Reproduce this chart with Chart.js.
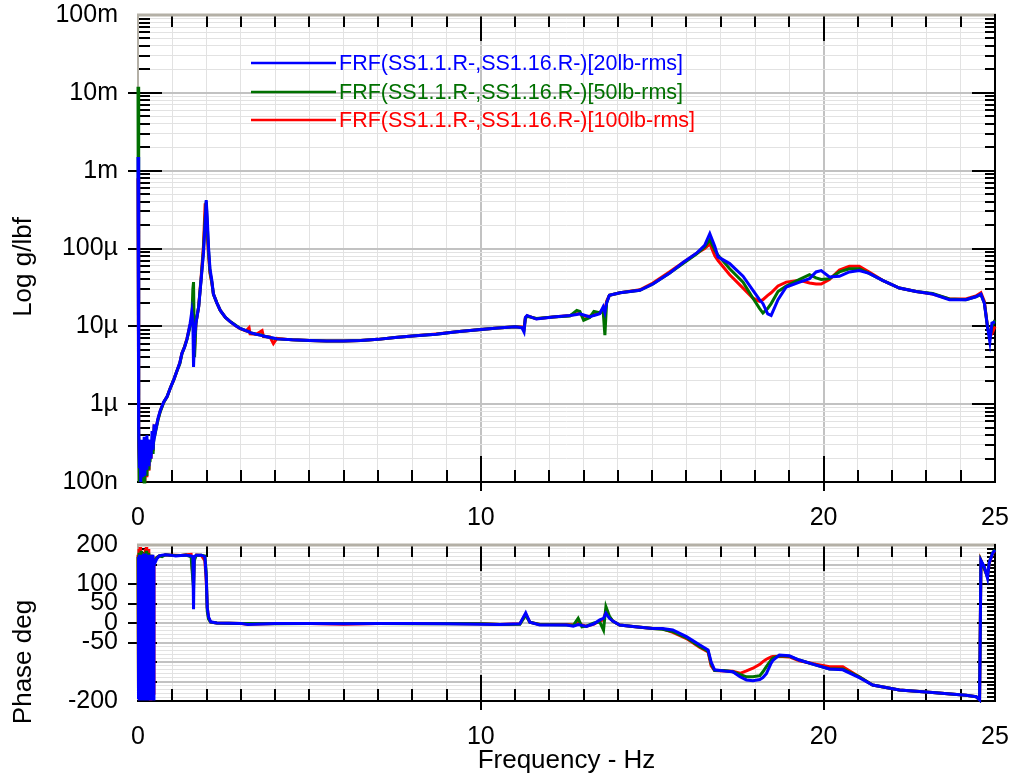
<!DOCTYPE html>
<html>
<head>
<meta charset="utf-8">
<title>FRF SS1.1.R- / SS1.16.R-</title>
<script src="https://cdn.jsdelivr.net/npm/chart.js@4.4.1/dist/chart.umd.min.js"></script>
<style>
  html, body { margin: 0; padding: 0; background: #ffffff; }
  #wrap { position: relative; width: 1011px; height: 780px; }
  #wrap canvas { position: absolute; left: 0; }
  #magChart { top: 0; }
  #phaseChart { top: 530px; }
</style>
</head>
<body>
<div id="wrap">
  <canvas id="magChart" width="1011" height="530"></canvas>
  <canvas id="phaseChart" width="1011" height="250"></canvas>
</div>
<script>
// ---- series ----
const seriesNames = [
  'FRF(SS1.1.R-,SS1.16.R-)[20lb-rms]',
  'FRF(SS1.1.R-,SS1.16.R-)[50lb-rms]',
  'FRF(SS1.1.R-,SS1.16.R-)[100lb-rms]'
];
const seriesColors = ['#0000ff', '#007000', '#ff0000'];

// ---- magnitude (micro g/lbf) ----
const magFreq = [
  0, 0.02, 0.04, 0.06, 0.08, 0.10, 0.12, 0.14, 0.16, 0.18,
  0.20, 0.22, 0.24, 0.26, 0.28, 0.30, 0.32, 0.35, 0.38, 0.41,
  0.44, 0.47, 0.50, 0.58, 0.65, 0.75, 0.85, 0.94, 1.05, 1.14,
  1.22, 1.28, 1.36, 1.43, 1.52, 1.57, 1.60, 1.62, 1.65, 1.69,
  1.77, 1.84, 1.91, 1.96, 1.99, 2.02, 2.06, 2.10, 2.15, 2.20,
  2.30, 2.40, 2.55, 2.69, 2.85, 2.98, 3.15, 3.24, 3.27, 3.45,
  3.62, 3.66, 3.85, 3.95, 4.05, 4.5, 5.0, 5.5, 6.0, 6.5,
  7.0, 7.5, 8.0, 8.7, 9.3, 10.0, 10.5, 11.0, 11.2, 11.26,
  11.3, 11.35, 11.62, 12.11, 12.6, 12.8, 12.89, 13.0, 13.18, 13.3,
  13.47, 13.57, 13.62, 13.67, 13.75, 14.06, 14.64, 15.02, 15.5, 15.9,
  16.29, 16.53, 16.68, 16.83, 16.92, 17.26, 17.65, 17.94, 18.13, 18.23,
  18.37, 18.47, 18.67, 18.91, 19.3, 19.59, 19.78, 19.93, 20.17, 20.46,
  20.75, 21.04, 21.33, 21.72, 22.21, 22.7, 23.18, 23.67, 24.15, 24.44,
  24.59, 24.69, 24.78, 24.85, 24.91, 25.0
];
const mag20 = [
  1500, 0.50, 0.15, 0.35, 0.10, 0.30, 0.12, 0.35, 0.15, 0.38,
  0.12, 0.32, 0.15, 0.40, 0.18, 0.35, 0.16, 0.33, 0.20, 0.45,
  0.26, 0.55, 0.42, 0.65, 0.83, 1.07, 1.25, 1.6, 2.1, 2.7,
  3.4, 4.5, 5.4, 6.9, 10.9, 15.5, 12, 3.0, 7, 10.9,
  17.8, 39, 87, 210, 420, 250, 100, 55, 40, 26,
  20, 16, 13, 11.5, 10.2, 9.4, 8.8, 8.5, 8.3, 7.9,
  7.6, 7.5, 7.2, 7.1, 6.9, 6.7, 6.6, 6.5, 6.5, 6.6,
  6.8, 7.2, 7.5, 7.9, 8.5, 9.1, 9.5, 9.9, 9.6, 8.5,
  13.0, 13.8, 12.4, 13.2, 13.8, 14.2, 14.5, 14.0, 13.2, 13.8,
  14.5, 17.8, 15.0, 20, 25, 27, 29, 35, 48, 66,
  87, 110, 155, 105, 78, 64, 44, 29, 22, 19.6,
  14.5, 13.8, 22, 32, 37, 41, 50, 52, 43, 44,
  50, 52, 48, 39, 31, 28, 26, 22, 22, 24,
  26, 19.6, 9.9, 6.3, 11, 11.4
];
const mag50 = [
  12000, 0.40, 0.10, 0.30, 0.15, 0.10, 0.25, 0.12, 0.30, 0.10,
  0.22, 0.15, 0.35, 0.12, 0.25, 0.15, 0.30, 0.18, 0.26, 0.30,
  0.23, 0.45, 0.42, 0.62, 0.80, 1.05, 1.25, 1.6, 2.1, 2.7,
  3.3, 4.4, 5.5, 6.8, 10, 12, 30, 37, 4.0, 11,
  18, 40, 95, 260, 400, 200, 90, 50, 38, 26,
  20, 16, 13, 11.5, 10.3, 9.4, 8.8, 8.5, 8.3, 7.9,
  7.7, 7.5, 7.2, 7.0, 6.9, 6.7, 6.6, 6.5, 6.5, 6.6,
  6.8, 7.2, 7.5, 7.9, 8.5, 9.1, 9.5, 9.9, 9.7, 9.0,
  12.5, 13.5, 12.6, 13.2, 13.6, 16.0, 15.5, 12.0, 13.0, 15.5,
  15.0, 15.5, 7.7, 20, 25, 27, 29, 35, 48, 64,
  85, 105, 129, 95, 82, 55, 37, 23, 17, 14.8,
  17, 19.6, 28, 33, 40, 46, 42, 40, 41, 50,
  55, 55, 48, 39, 31, 28, 26.5, 22.5, 22, 24,
  25.5, 20, 10, 7, 10, 12
];
const mag100 = [
  800, 0.30, 0.20, 0.12, 0.25, 0.10, 0.30, 0.15, 0.12, 0.28,
  0.10, 0.20, 0.12, 0.35, 0.16, 0.26, 0.14, 0.32, 0.20, 0.35,
  0.25, 0.48, 0.45, 0.63, 0.82, 1.06, 1.25, 1.6, 2.1, 2.7,
  3.4, 4.5, 5.5, 7.0, 10.5, 11, 20, 9, 5, 11,
  18, 42, 110, 380, 300, 150, 80, 48, 37, 26,
  20, 16, 13, 11.5, 10.2, 9.3, 8.7, 9.6, 8.0, 7.9,
  8.8, 7.4, 7.3, 6.0, 7.0, 6.7, 6.6, 6.5, 6.5, 6.6,
  6.8, 7.2, 7.5, 8.0, 8.5, 9.1, 9.5, 9.9, 9.8, 9.3,
  12.8, 13.6, 12.5, 13.2, 13.8, 14.5, 14.5, 13.5, 13.5, 14.5,
  15.0, 17.0, 16, 21, 25, 27, 29.5, 36, 50, 66,
  86, 100, 115, 80, 70, 46, 31, 23, 21, 22,
  25, 27, 33, 37, 39, 36, 35, 35, 40, 53,
  59, 59, 50, 39, 31, 28, 26, 22.5, 22.5, 24.5,
  27, 21, 10, 7.5, 8, 10
];

// ---- phase (deg) ----
const phaseFreq = [
  0, 0.015, 0.03, 0.045, 0.06, 0.075, 0.09, 0.105, 0.12, 0.135,
  0.15, 0.165, 0.18, 0.195, 0.21, 0.225, 0.24, 0.255, 0.27, 0.285,
  0.30, 0.315, 0.33, 0.345, 0.36, 0.375, 0.39, 0.405, 0.42, 0.435,
  0.45, 0.465, 0.50, 0.55, 0.62, 0.70, 0.80, 0.95, 1.10, 1.25,
  1.40, 1.55, 1.60, 1.62, 1.64, 1.70, 1.85, 1.95, 1.99, 2.02,
  2.06, 2.12, 2.3, 3.0, 3.2, 4.0, 5.0, 6.0, 7.0, 8.0,
  9.0, 10.0, 10.56, 11.14, 11.31, 11.43, 11.72, 12.5, 12.7, 12.84,
  12.95, 13.08, 13.3, 13.47, 13.58, 13.65, 13.75, 13.85, 14.05, 14.44,
  15.02, 15.3, 15.6, 16.0, 16.38, 16.63, 16.72, 16.82, 17.1, 17.35,
  17.56, 17.75, 17.94, 18.14, 18.23, 18.33, 18.47, 18.52, 18.71, 19.0,
  19.29, 19.78, 20.17, 20.56, 21.04, 21.43, 22.21, 23.18, 24.15, 24.45,
  24.55, 24.59, 24.69, 24.78, 24.83, 24.93, 25.0
];
const phase20 = [
  -195, 170, -190, 175, -195, 160, -180, 175, -195, 170,
  -185, 178, -195, 165, -190, 178, -195, 170, -180, 175,
  -195, 170, -190, 175, -185, 172, -195, 168, -190, 175,
  -195, 160, 155, 165, 172, 174, 175, 174, 172, 173,
  174, 172, 170, 35, 170, 174, 174, 170, 120, 40,
  15, 3, 0, -1, -4, -1, -1, -2, -1, -1,
  -2, -3, -4, -2, 26, 2, -5, -5, -8, -4,
  -6, -9, -2, 8, 12, 25, 12, 5, -5, -9,
  -14, -14, -18, -35, -56, -69, -100, -120, -123, -125,
  -138, -146, -148, -145, -140, -130, -103, -96, -82, -84,
  -95, -108, -118, -120, -140, -159, -172, -178, -185, -189,
  -197, 160, 144, 115, 154, 179, 187
];
const phase50 = [
  170, -195, 180, -150, 175, -190, 185, -170, 175, -195,
  160, -180, 175, -190, 180, -160, 185, -195, 170, -185,
  180, -190, 175, -195, 165, -180, 175, -190, 170, -185,
  165, 150, 160, 168, 172, 170, 175, 174, 173, 173,
  174, 170, 110, 90, 160, 174, 174, 172, 130, 30,
  10, 2, 0, -1, -1, -2, -1, -1, -1, -2,
  -1, -2, -4, -3, 20, 2, -4, -5, -6, 12,
  -10, -8, 0, 3, -18, 42, 18, 5, -5, -9,
  -14, -16, -22, -38, -60, -72, -105, -122, -122, -125,
  -132, -138, -138, -135, -125, -112, -95, -90, -84, -85,
  -95, -108, -118, -118, -138, -159, -172, -178, -185, -189,
  -197, 160, 140, 118, 155, 180, 188
];
const phase100 = [
  175, -190, 190, -195, 195, -160, 180, -190, 170, -180,
  175, -195, 180, -170, 190, -185, 195, -180, 175, -190,
  -86, 190, -180, 170, -195, 175, -190, 170, -185, 172,
  -180, 160, 162, 168, 172, 172, 175, 174, 174, 173,
  175, 176, 120, 102, 165, 174, 173, 160, 110, 40,
  12, 2, 0, -1, -3, -1, -1, -3, -1, -1,
  -1, -2, -4, -2, 22, 2, -4, -4, -5, 2,
  -5, -8, -3, 5, 8, 30, 15, 5, -5, -9,
  -14, -15, -24, -40, -62, -74, -110, -122, -123, -124,
  -129, -123, -116, -106, -99, -93, -87, -86, -85, -87,
  -97, -106, -112, -112, -138, -159, -172, -178, -185, -189,
  -197, 160, 138, 120, 152, 178, 186
];

// ---- axis labels ----
const freqTickLabels = [0, 10, 20, 25];
const magTickLabels = ['100n', '1\u00b5', '10\u00b5', '100\u00b5', '1m', '10m', '100m'];
const phaseTickLabels = [200, 100, 50, 0, -50, -200];

// ---- shared look ----
const FONT = "'Liberation Sans', Arial, sans-serif";
Chart.defaults.font.family = FONT;
Chart.defaults.color = '#000000';
const GRID_MAJOR = '#c2c2c2';
const GRID_MINOR = '#e2e2e2';
const FRAME_GREY = '#b4b0a6';
const MICRO = 1e-6;

function strokeLine(ctx, x1, y1, x2, y2) {
  ctx.beginPath();
  ctx.moveTo(x1, y1);
  ctx.lineTo(x2, y2);
  ctx.stroke();
}

function isDecade(v) {
  const lg = Math.log10(v);
  return Math.abs(lg - Math.round(lg)) < 1e-6;
}

function toPoints(xs, ys, scale) {
  return xs.map((f, i) => ({ x: f, y: ys[i] * scale }));
}

function makeDatasets(xs, seriesList, scale) {
  return seriesList.map((ys, i) => ({
    label: seriesNames[i],
    data: toPoints(xs, ys, scale),
    borderColor: seriesColors[i],
    backgroundColor: seriesColors[i],
    borderWidth: 3,
    pointRadius: 0,
    tension: 0,
    fill: false,
    clip: 3
  }));
}

// frequency axis shared by both panels
function freqAxis(height, title) {
  return {
    type: 'linear',
    min: 0,
    max: 25,
    afterBuildTicks: s => {
      const t = [];
      for (let v = 0; v <= 25; v++) t.push({ value: v });
      s.ticks = t;
    },
    afterFit: s => {
      s.height = height;
      s.paddingLeft = 0;
      s.paddingRight = 0;
    },
    ticks: {
      autoSkip: false, maxRotation: 0, minRotation: 0,
      font: { size: 25 }, color: '#000', padding: 21,
      callback: v => freqTickLabels.includes(v) ? String(v) : ''
    },
    grid: {
      drawTicks: false,
      color: c => {
        const v = c.tick.value;
        if (v === 0 || v === 25) return 'rgba(0,0,0,0)';
        return v % 10 === 0 ? GRID_MAJOR : GRID_MINOR;
      },
      lineWidth: c => (c.tick.value % 10 === 0 ? 2 : 1)
    },
    border: { display: false },
    title: title ? {
      display: true, text: title, color: '#000',
      font: { size: 26 }, padding: { top: 0, bottom: 4 }
    } : { display: false }
  };
}

function fixYWidth(s) {
  s.width = 138;
  s.paddingTop = 0;
  s.paddingBottom = 0;
}

// inward tick marks and plot frame
function makeFrame(tickSpec) {
  return {
    id: 'axisFrame',
    beforeDatasetsDraw(chart) {
      const { ctx, chartArea: a, scales: { x, y } } = chart;
      const L = Math.round(a.left), R = Math.round(a.right);
      const T = Math.round(a.top), B = Math.round(a.bottom);
      ctx.save();
      ctx.lineCap = 'butt';
      ctx.strokeStyle = '#000';
      ctx.lineWidth = 2;
      x.ticks.forEach(t => {
        const v = t.value;
        if (v <= 0 || v >= 25) return;
        const px = Math.round(x.getPixelForValue(v));
        const major = v % 10 === 0;
        strokeLine(ctx, px, T, px, T + (major ? 26 : 12));
        strokeLine(ctx, px, B + (major ? 9 : 0), px, B - (major ? 26 : 12));
      });
      y.ticks.forEach(t => {
        const spec = tickSpec(t.value);
        if (!spec) return;
        const py = Math.round(y.getPixelForValue(t.value));
        strokeLine(ctx, L - spec[0], py, L + spec[1], py);
        strokeLine(ctx, R - spec[2], py, R, py);
      });
      ctx.strokeStyle = FRAME_GREY;
      ctx.lineWidth = 3;
      strokeLine(ctx, L - 1, T, R + 1, T);
      ctx.lineWidth = 2;
      strokeLine(ctx, L, T, L, B);
      ctx.strokeStyle = '#000';
      strokeLine(ctx, L - 1, B, R + 1, B);
      strokeLine(ctx, R, T - 1, R, B + 1);
      ctx.restore();
    }
  };
}

// rotated y-axis title
function makeYTitle(text, cy) {
  return {
    id: 'yTitle',
    afterDraw(chart) {
      const ctx = chart.ctx;
      ctx.save();
      ctx.translate(31, cy);
      ctx.rotate(-Math.PI / 2);
      ctx.font = '26px ' + FONT;
      ctx.fillStyle = '#000';
      ctx.textAlign = 'center';
      ctx.textBaseline = 'alphabetic';
      ctx.fillText(text, 0, 0);
      ctx.restore();
    }
  };
}

// legend drawn inside the magnitude plot
const inlineLegend = {
  id: 'inlineLegend',
  afterDatasetsDraw(chart) {
    const { ctx, chartArea: a } = chart;
    ctx.save();
    chart.data.datasets.forEach((ds, i) => {
      const y = Math.round(a.top + 48 + i * 28.5);
      ctx.strokeStyle = ds.borderColor;
      ctx.lineWidth = 2.5;
      strokeLine(ctx, a.left + 113, y, a.left + 198, y);
      ctx.fillStyle = ds.borderColor;
      ctx.font = '21.5px ' + FONT;
      ctx.textAlign = 'left';
      ctx.textBaseline = 'middle';
      ctx.fillText(ds.label, a.left + 201, y + 1);
    });
    ctx.restore();
  }
};

const baseOptions = {
  responsive: false,
  animation: false,
  devicePixelRatio: 1,
  events: [],
  plugins: { legend: { display: false }, tooltip: { enabled: false } }
};

// ---- magnitude panel ----
new Chart(document.getElementById('magChart'), {
  type: 'line',
  data: { datasets: makeDatasets(magFreq, [mag20, mag50, mag100], MICRO) },
  options: Object.assign({}, baseOptions, {
    layout: { padding: { top: 15, right: 16, left: 0, bottom: 0 } },
    scales: {
      x: freqAxis(48, null),
      y: {
        type: 'logarithmic',
        min: 1e-7,
        max: 1e-1,
        afterBuildTicks: s => {
          const t = [];
          for (let e = -7; e <= -1; e++) {
            for (let m = 1; m <= 9; m++) {
              const v = m * Math.pow(10, e);
              if (v <= 0.1000001) t.push({ value: v });
            }
          }
          s.ticks = t;
        },
        afterFit: fixYWidth,
        ticks: {
          autoSkip: false, font: { size: 25 }, color: '#000', padding: 20,
          callback: v => isDecade(v) ? magTickLabels[Math.round(Math.log10(v)) + 7] : ''
        },
        grid: {
          drawTicks: false,
          color: c => isDecade(c.tick.value) ? GRID_MAJOR : GRID_MINOR,
          lineWidth: c => isDecade(c.tick.value) ? 2 : 1
        },
        border: { display: false }
      }
    }
  }),
  plugins: [
    makeFrame(v => {
      if (!isDecade(v)) return [0, 12, 10];
      if (v < 1.5e-7 || v > 0.05) return null;
      return [10, 24, 23];
    }),
    inlineLegend,
    makeYTitle('Log g/lbf', 267)
  ]
});

// ---- phase panel ----
new Chart(document.getElementById('phaseChart'), {
  type: 'line',
  data: { datasets: makeDatasets(phaseFreq, [phase20, phase50, phase100], 1) },
  options: Object.assign({}, baseOptions, {
    layout: { padding: { top: 15, right: 16, left: 0, bottom: 0 } },
    scales: {
      x: freqAxis(79, 'Frequency - Hz'),
      y: {
        type: 'linear',
        min: -200,
        max: 200,
        afterBuildTicks: s => {
          const t = [];
          for (let v = -200; v <= 200; v += 10) t.push({ value: v });
          s.ticks = t;
        },
        afterFit: fixYWidth,
        ticks: {
          autoSkip: false, font: { size: 25 }, color: '#000', padding: 20,
          callback: v => phaseTickLabels.includes(v) ? String(v) : ''
        },
        grid: {
          drawTicks: false,
          color: c => (c.tick.value % 50 === 0 ? GRID_MAJOR : GRID_MINOR),
          lineWidth: c => (c.tick.value % 50 === 0 ? 2 : 1)
        },
        border: { display: false }
      }
    }
  }),
  plugins: [
    makeFrame(v => {
      if (v === 200 || v === -200) return null;
      if (v % 50 === 0) return [phaseTickLabels.includes(v) ? 10 : 0, 19, 18];
      return [0, 8, 8];
    }),
    makeYTitle('Phase deg', 132)
  ]
});
</script>
</body>
</html>
